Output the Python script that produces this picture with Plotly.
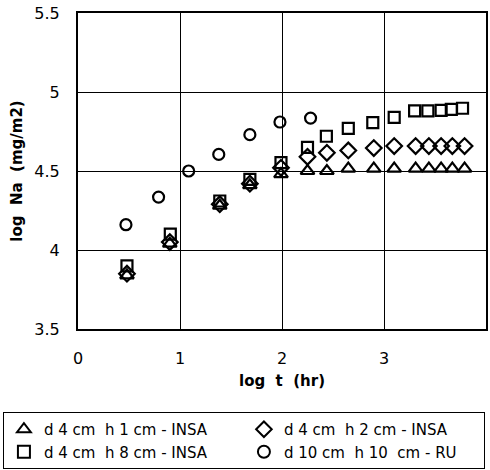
import plotly.graph_objects as go

# log t (hr) values
t_tri = [0.48, 0.90, 1.39, 1.685, 1.99, 2.25, 2.44, 2.65, 2.90, 3.10, 3.31, 3.44, 3.56, 3.67, 3.79]
y_tri = [3.84, 4.04, 4.28, 4.41, 4.48, 4.50, 4.50, 4.515, 4.515, 4.515, 4.515, 4.515, 4.515, 4.515, 4.515]

t_dia = [0.48, 0.90, 1.39, 1.685, 1.99, 2.25, 2.44, 2.65, 2.90, 3.10, 3.31, 3.44, 3.56, 3.67, 3.79]
y_dia = [3.85, 4.05, 4.29, 4.42, 4.52, 4.59, 4.615, 4.63, 4.645, 4.658, 4.658, 4.658, 4.658, 4.658, 4.658]

t_sq = [0.48, 0.905, 1.39, 1.685, 1.99, 2.25, 2.435, 2.65, 2.89, 3.10, 3.30, 3.43, 3.56, 3.66, 3.77]
y_sq = [3.90, 4.10, 4.31, 4.447, 4.553, 4.65, 4.72, 4.77, 4.806, 4.84, 4.88, 4.88, 4.884, 4.89, 4.897]

t_cir = [0.47, 0.79, 1.085, 1.38, 1.685, 1.98, 2.28]
y_cir = [4.16, 4.335, 4.50, 4.605, 4.73, 4.81, 4.835]

names = ["d\u00a04\u00a0cm\u00a0\u00a0h\u00a01\u00a0cm\u00a0-\u00a0INSA",
         "d\u00a04\u00a0cm\u00a0\u00a0h\u00a02\u00a0cm\u00a0-\u00a0INSA",
         "d\u00a04\u00a0cm\u00a0\u00a0h\u00a08\u00a0cm\u00a0-\u00a0INSA",
         "d\u00a010\u00a0cm\u00a0\u00a0h\u00a010\u00a0\u00a0cm\u00a0-\u00a0RU"]

x_ticks = [0, 1, 2, 3, 4]
y_ticks = [3.5, 4, 4.5, 5, 5.5]
y_tick_labels = ["3.5", "4", "4.5", "5", "5.5"]

FONT = "DejaVu Sans, Liberation Sans, Arial, sans-serif"

fig = go.Figure()
series = [(t_tri, y_tri, "triangle-up-open", 12),
          (t_dia, y_dia, "diamond-open", 12),
          (t_sq, y_sq, "square-open", 11),
          (t_cir, y_cir, "circle-open", 11)]
for (xs, ys, sym, sz), nm in zip(series, names):
    fig.add_trace(go.Scatter(
        x=xs, y=ys, mode="markers", name=nm,
        marker=dict(symbol=sym, size=sz, color="black", line=dict(color="black", width=2.2)),
    ))

fig.update_layout(
    width=490, height=470,
    margin=dict(l=78, r=4, t=13, b=141, autoexpand=False),
    paper_bgcolor="white", plot_bgcolor="white",
    font=dict(family=FONT, color="black", size=15),
    showlegend=True,
    legend=dict(
        orientation="h", x=-0.184, y=-0.2627, xanchor="left", yanchor="top",
        entrywidth=195, entrywidthmode="pixels",
        bordercolor="black", borderwidth=1,
        font=dict(size=15, family=FONT),
        itemsizing="constant", tracegroupgap=0, itemwidth=30,
    ),
    xaxis=dict(
        range=[0, 4], tickvals=x_ticks, ticktext=[str(v) for v in x_ticks],
        showgrid=True, gridcolor="black", gridwidth=1,
        zeroline=False, showline=True, linecolor="black", linewidth=2, mirror=True,
        ticks="", ticklabelstandoff=14,
        tickfont=dict(size=16),
        title=dict(text="<b>log\u00a0\u00a0t\u00a0\u00a0(hr)</b>", font=dict(size=15), standoff=8),
    ),
    yaxis=dict(
        range=[3.5, 5.5], tickvals=y_ticks, ticktext=y_tick_labels,
        showgrid=True, gridcolor="black", gridwidth=1,
        zeroline=False, showline=True, linecolor="black", linewidth=2, mirror=True,
        ticks="", ticklabelstandoff=13,
        tickfont=dict(size=16),
        title=dict(text="<b>log\u00a0\u00a0Na\u00a0\u00a0(mg/m2)</b>", font=dict(size=15), standoff=8),
    ),
)

fig.write_html("out.html")
